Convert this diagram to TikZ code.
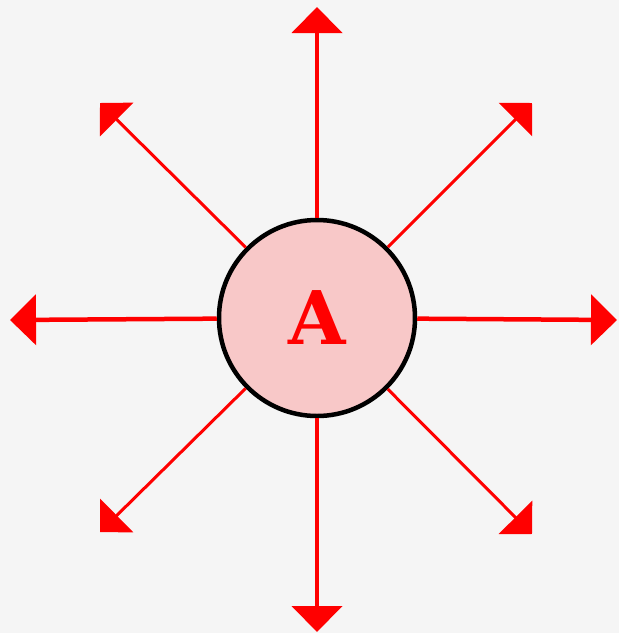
\documentclass[tikz,border=0pt]{standalone}
\usepackage{fontspec}
\newfontfamily\serifb{DejaVu Serif}
\usetikzlibrary{arrows.meta}
\definecolor{bg}{RGB}{245,245,245}
\definecolor{arrred}{RGB}{255,0,0}
\definecolor{pinkfill}{RGB}{248,200,200}
\tikzset{
  straightarr/.style={draw=arrred, line width=4.5pt, -{Triangle[length=26pt,width=50pt]}},
  diagarr/.style={draw=arrred, line width=3pt, -{Triangle[length=23.5pt,width=47pt]}},
  centre/.style={circle, draw=black, line width=4.5pt, fill=pinkfill, minimum size=196pt, inner sep=0pt}
}
\begin{document}
\begin{tikzpicture}[x=1pt,y=-1pt]
\fill[bg] (0,0) rectangle (619,633);
\useasboundingbox (0,0) rectangle (619,633);
\coordinate (tN) at (317,7);
\coordinate (tS) at (317,632);
\coordinate (tW) at (10,320);
\coordinate (tE) at (617,320);
\coordinate (tNW) at (100,103);
\coordinate (tNE) at (532,103);
\coordinate (tSW) at (100,532);
\coordinate (tSE) at (532,534);
\node[centre] (A) at (317,318) {\serifb\bfseries\color{arrred}\fontsize{74}{74}\selectfont A};
\draw[straightarr] (A) -- (tN);
\draw[straightarr] (A) -- (tS);
\draw[straightarr] (A) -- (tW);
\draw[straightarr] (A) -- (tE);
\draw[diagarr] (A) -- (tNW);
\draw[diagarr] (A) -- (tNE);
\draw[diagarr] (A) -- (tSW);
\draw[diagarr] (A) -- (tSE);
\end{tikzpicture}
\end{document}
